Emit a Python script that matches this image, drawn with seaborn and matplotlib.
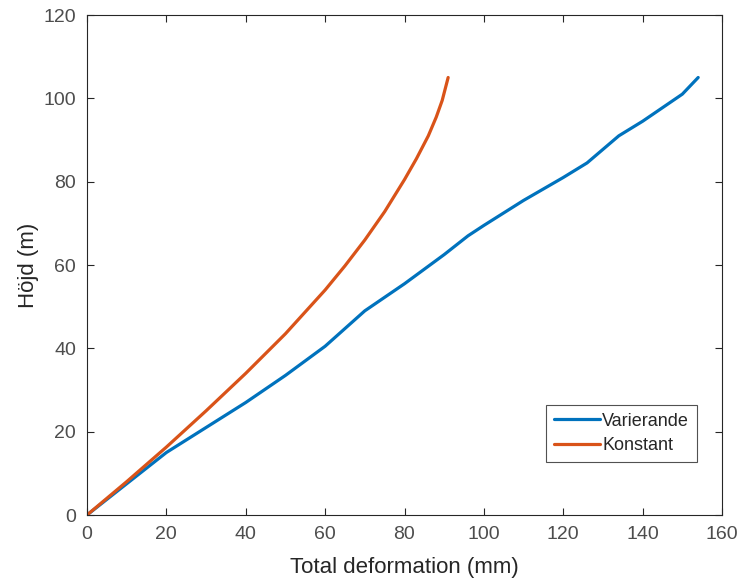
import numpy as np
import pandas as pd
import matplotlib
matplotlib.use("Agg")
import matplotlib.pyplot as plt
import seaborn as sns

# Data
var_x = [0, 10, 20, 30, 40, 50, 60, 70, 80, 90, 96, 100, 110, 120, 126, 134, 140, 150, 154]
var_y = [0, 7.5, 15, 21, 27, 33.5, 40.5, 49, 55.5, 62.5, 67, 69.5, 75.5, 81, 84.5, 91, 94.5, 101, 105]
kon_x = [0, 10, 20, 30, 40, 50, 60, 65, 70, 75, 80, 83, 86, 88, 89.5, 91]
kon_y = [0, 8, 16.3, 25, 34, 43.5, 54, 59.8, 66, 72.8, 80.5, 85.5, 91, 95.5, 99.5, 105]
series_names = ["Varierande", "Konstant"]
colors = ["#0072BD", "#D95319"]

df = pd.concat([
    pd.DataFrame({"x": var_x, "y": var_y, "serie": series_names[0]}),
    pd.DataFrame({"x": kon_x, "y": kon_y, "serie": series_names[1]}),
], ignore_index=True)

sns.set_theme(style="ticks")
plt.rcParams["font.family"] = ["Liberation Sans", "DejaVu Sans"]

fig = plt.figure(figsize=(7.41, 5.78), dpi=100)
ax = fig.add_axes([87/741, 1 - 515/578, 635/741, 500/578])

sns.lineplot(data=df, x="x", y="y", hue="serie", palette=colors,
             sort=False, estimator=None, linewidth=2.3, ax=ax)

ax.set_xlim(0, 160)
ax.set_ylim(0, 120)
ax.set_xticks(np.arange(0, 161, 20))
ax.set_yticks(np.arange(0, 121, 20))
ax.set_xlabel("Total deformation (mm)", fontsize=16, color="#262626", labelpad=10)
ax.set_ylabel("Höjd (m)", fontsize=16, color="#262626", labelpad=3)
ax.tick_params(direction="in", top=True, right=True, length=5, width=0.8,
               labelsize=14, colors="#262626", labelcolor="#4d4d4d", pad=8)
for s in ax.spines.values():
    s.set_visible(True)
    s.set_color("#262626")
    s.set_linewidth(0.8)

leg = ax.legend(loc="lower right", bbox_to_anchor=(0.961, 0.106), fontsize=13,
                frameon=True, fancybox=False, handlelength=2.5, borderpad=0.45,
                handletextpad=0.15, labelspacing=0.4, borderaxespad=0)
leg.get_frame().set_edgecolor("#262626")
leg.get_frame().set_linewidth(0.8)
for t in leg.get_texts():
    t.set_color("#262626")

fig.savefig("out.png", dpi=100)
